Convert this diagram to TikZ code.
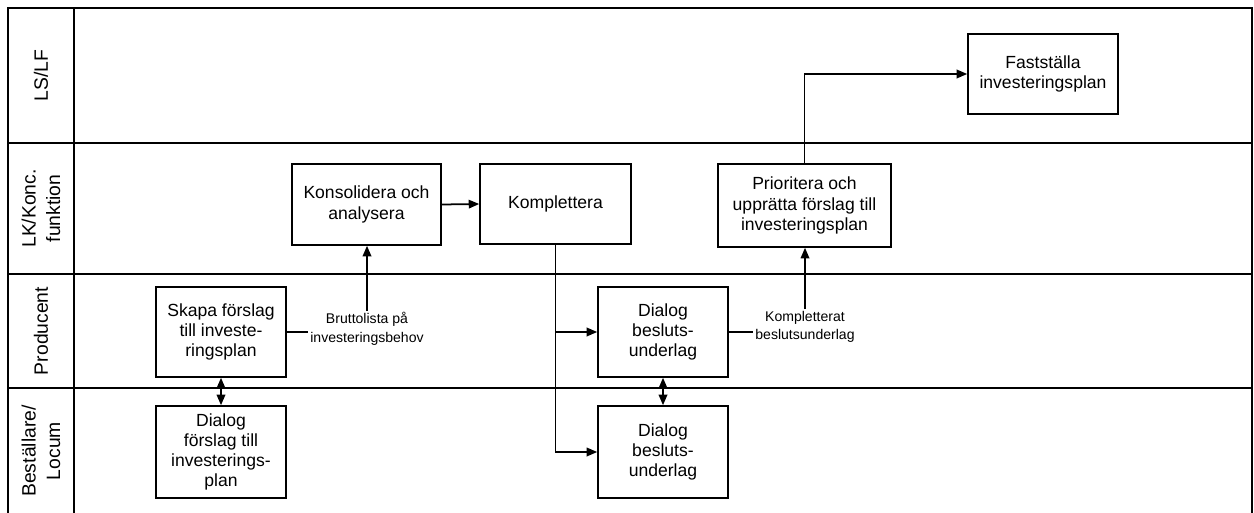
\documentclass[tikz,border=0pt]{standalone}
\usepackage{fontspec}
\setmainfont{Liberation Sans}
\usetikzlibrary{arrows.meta}

\begin{document}
\begin{tikzpicture}[x=0.02cm,y=-0.02cm,
    box/.style={draw,line width=0.9pt,align=center,inner sep=2pt,font=\fontsize{10}{11.5}\selectfont},
    note/.style={align=center,inner sep=1pt,font=\fontsize{8}{10.5}\selectfont},
    lane/.style={rotate=90,align=center,font=\fontsize{11}{14}\selectfont},
    stream/.style={-{Triangle[length=0.21cm,width=0.17cm]},line width=1pt},
    twoway/.style={{Triangle[length=0.21cm,width=0.17cm]}-{Triangle[length=0.21cm,width=0.17cm]},line width=1pt}]
    \clip (0,0) rectangle (1254,513);
    %lanes
    \draw [line width=1.2pt] (8,530) -- (8,8) -- (1252,8) -- (1252,530);
    \draw [line width=1.2pt] (74,8) -- (74,530);
    \draw [line width=1.2pt] (8,143) -- (1252,143);
    \draw [line width=1.2pt] (8,274) -- (1252,274);
    \draw [line width=1.2pt] (8,388) -- (1252,388);
    \node [lane] (lslf) at (41,75.5) {LS/LF};
    \node [lane] (lk) at (41,208.5) {LK/Konc.\\funktion};
    \node [lane] (prod) at (41,331) {Producent};
    \node [lane] (best) at (41,451) {Beställare/\\Locum};

    %activities
    \node [box,minimum width=2.6cm,minimum height=1.8cm] (skapa) at (221,332) {Skapa förslag\\till investe-\\ringsplan};
    \node [box,minimum width=2.6cm,minimum height=1.84cm] (dlgforslag) at (221,452) {Dialog\\förslag till\\investerings-\\plan};
    \node [box,minimum width=2.98cm,minimum height=1.62cm] (konsol) at (366.5,204.5) {Konsolidera och\\analysera};
    \node [box,minimum width=3.02cm,minimum height=1.6cm] (kompl) at (555.5,204) {Komplettera};
    \node [box,minimum width=3.46cm,minimum height=1.66cm] (prior) at (804.5,205.5) {Prioritera och\\upprätta förslag till\\investeringsplan};
    \node [box,minimum width=3cm,minimum height=1.6cm] (fastst) at (1043,74) {Fastställa\\investeringsplan};
    \node [box,minimum width=2.6cm,minimum height=1.8cm] (dlgprod) at (663,332) {Dialog\\besluts-\\underlag};
    \node [box,minimum width=2.6cm,minimum height=1.84cm] (dlgbest) at (663,452) {Dialog\\besluts-\\underlag};

    %labels
    \node [note] (brutto) at (367,329) {Bruttolista på\\investeringsbehov};
    \node [note] (komplat) at (805,327) {Kompletterat\\beslutsunderlag};

    %flows
    \draw [line width=1pt] (skapa.east) -- (skapa.east -| brutto.west);
    \draw [stream] (brutto.north) -- (brutto.north |- konsol.south);
    \draw [stream] (konsol.east) -- (kompl.west);
    \draw [stream] (kompl.south) |- (dlgprod.west);
    \draw [stream] (kompl.south) |- (dlgbest.west);
    \draw [line width=1pt] (dlgprod.east) -- (dlgprod.east -| komplat.west);
    \draw [stream] (komplat.north) -- (komplat.north |- prior.south);
    \draw [stream] (prior.north) |- (fastst.west);
    \draw [twoway] (skapa.south) -- (dlgforslag.north);
    \draw [twoway] (dlgprod.south) -- (dlgbest.north);
\end{tikzpicture}
\end{document}
